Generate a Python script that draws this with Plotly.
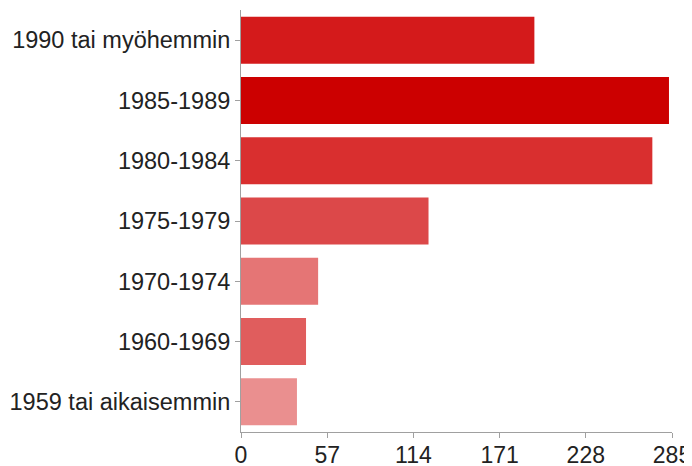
import plotly.graph_objects as go

# Syntymävuosi-jakauma (top to bottom as drawn)
categories = [
    "1990 tai myöhemmin",
    "1985-1989",
    "1980-1984",
    "1975-1979",
    "1970-1974",
    "1960-1969",
    "1959 tai aikaisemmin",
]
counts = [194, 283, 272, 124, 51, 43, 37]
bar_colors = ["#D41A1B", "#CC0000", "#D92F2F", "#DC4849", "#E57575", "#E05D5D", "#EA8F8F"]
tick_values = [0, 57, 114, 171, 228, 285]

AXIS_GRAY = "#A0A0A0"
TEXT = "#222222"

fig = go.Figure()

fig.add_trace(go.Bar(
    y=categories,
    x=counts,
    orientation="h",
    width=0.78,
    marker=dict(color=bar_colors, line=dict(width=0)),
    hovertemplate="%{y}: %{x}<extra></extra>",
))

# page body adds an 8px offset, so the figure is a bit smaller than the window
fig.update_layout(
    font=dict(family="Liberation Sans, Arial, sans-serif", size=23.5, color=TEXT),
    paper_bgcolor="white",
    plot_bgcolor="white",
    margin=dict(l=233, r=20, t=2, b=34),
    width=684,
    height=458,
    showlegend=False,
    xaxis=dict(
        range=[0, 285],
        tickvals=tick_values,
        ticktext=[str(v) for v in tick_values],
        showgrid=False,
        zeroline=False,
        showline=True,
        linecolor=AXIS_GRAY,
        linewidth=1,
        ticks="outside",
        ticklen=5,
        tickcolor=AXIS_GRAY,
        tickfont=dict(size=23, color=TEXT),
        ticklabelstandoff=-3,
        automargin=False,
    ),
    yaxis=dict(
        range=[6.5, -0.5],
        categoryorder="array",
        categoryarray=categories,
        showgrid=False,
        zeroline=False,
        showline=True,
        linecolor=AXIS_GRAY,
        linewidth=1,
        ticks="outside",
        ticklen=5,
        tickcolor=AXIS_GRAY,
        tickfont=dict(size=23.5, color=TEXT),
        automargin=False,
    ),
)

fig.write_html("out.html")
